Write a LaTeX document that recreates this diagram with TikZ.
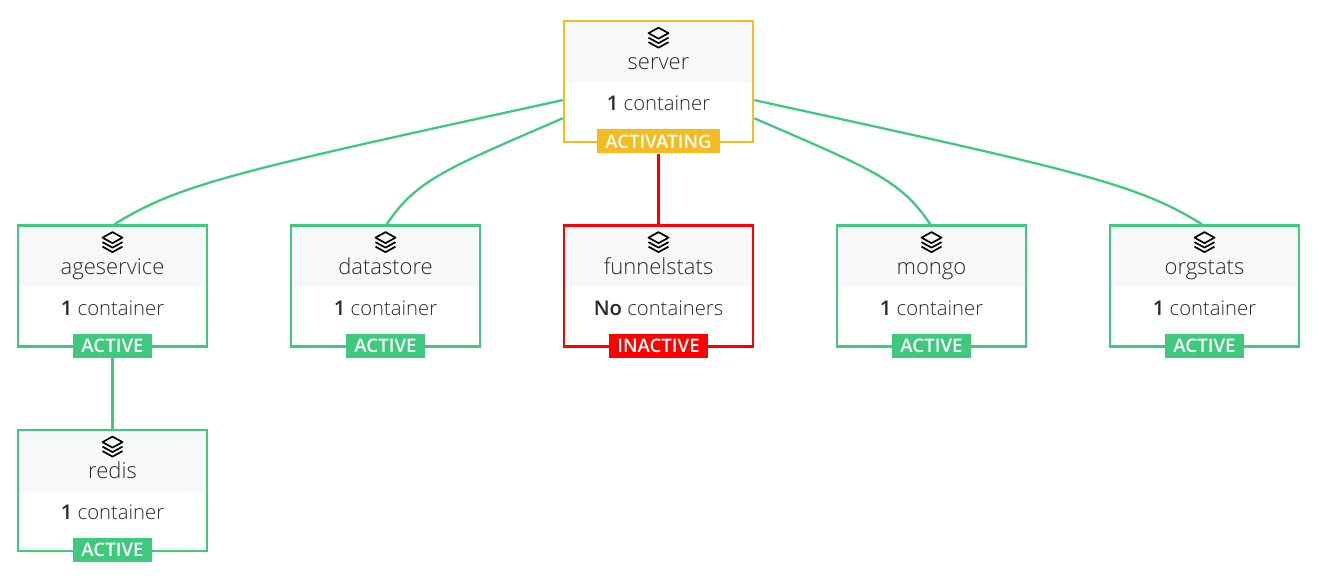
\documentclass[tikz,border=0pt]{standalone}
\usepackage{fontspec}
\usepackage{xcolor}
\usepackage{tikz}
\usetikzlibrary{positioning, calc}
\setmainfont{Open Sans}
\newfontfamily\lightfont{Open Sans Light}
\newfontfamily\semifont{Open Sans Semibold}
\definecolor{activegreen}{RGB}{62, 201, 126}
\definecolor{activatingyellow}{RGB}{245, 187, 34}
\definecolor{inactivered}{RGB}{255, 0, 0}
\definecolor{headgray}{RGB}{247, 248, 250}
\definecolor{textdark}{RGB}{40, 42, 48}

\begin{document}
\begin{tikzpicture}[
    x=0.75pt, y=0.75pt,
    node distance=60.6pt and 61pt,
    svcbox/.style={draw=#1, line width=2pt, fill=white, minimum width=141.75pt, minimum height=90.75pt, inner sep=0pt},
    headbox/.style={fill=headgray, outer sep=0pt, inner ysep=0pt, minimum width=139.75pt, text height=35.5pt, text depth=9pt, text=textdark, font=\lightfont\fontsize{16.5}{20}\selectfont},
    countlabel/.style={inner sep=0pt, text height=21.6pt, text=textdark, font=\lightfont\fontsize{15.2}{18}\selectfont},
    badge/.style={fill=#1, text=white, inner xsep=6.5pt, inner ysep=0pt, minimum height=18pt, font=\semifont\fontsize{14}{16}\selectfont},
    link/.style={draw=#1, line width=1.7pt},
    stackicon/.pic={
        \draw[line width=1.25pt, line join=round, black] (0,10) -- (10,4.5) -- (0,-1) -- (-10,4.5) -- cycle;
        \draw[line width=1.25pt, line join=round, black] (-10,0) -- (0,-5.5) -- (10,0);
        \draw[line width=1.25pt, line join=round, black] (-10,-4.5) -- (0,-10) -- (10,-4.5);
    }
]
\useasboundingbox (0,0) rectangle (1319,-583);

% Row 1: Server
\node[svcbox=activatingyellow] (server) at (658.5,-81.5) {};
\node[headbox, anchor=north, yshift=-2pt] (serverhead) at (server.north) {server};
\node[countlabel, below=0pt of serverhead] (servercount) {{\semifont 1} container};
\node[badge=activatingyellow, yshift=1.5pt] (serverbadge) at (server.south) {ACTIVATING};
\pic at ([yshift=-13.5pt]server.north) {stackicon};

% Row 2: Services
\node[svcbox=inactivered, below=of server] (funnelstats) {};
\node[headbox, anchor=north, yshift=-2pt] (funnelstatshead) at (funnelstats.north) {funnelstats};
\node[countlabel, below=0pt of funnelstatshead] (funnelstatscount) {{\semifont No} containers};
\node[badge=inactivered, yshift=1.5pt] (funnelstatsbadge) at (funnelstats.south) {INACTIVE};
\pic at ([yshift=-13.5pt]funnelstats.north) {stackicon};

\node[svcbox=activegreen, left=of funnelstats] (datastore) {};
\node[headbox, anchor=north, yshift=-2pt] (datastorehead) at (datastore.north) {datastore};
\node[countlabel, below=0pt of datastorehead] (datastorecount) {{\semifont 1} container};
\node[badge=activegreen, yshift=1.5pt] (datastorebadge) at (datastore.south) {ACTIVE};
\pic at ([yshift=-13.5pt]datastore.north) {stackicon};

\node[svcbox=activegreen, left=of datastore] (ageservice) {};
\node[headbox, anchor=north, yshift=-2pt] (ageservicehead) at (ageservice.north) {ageservice};
\node[countlabel, below=0pt of ageservicehead] (ageservicecount) {{\semifont 1} container};
\node[badge=activegreen, yshift=1.5pt] (ageservicebadge) at (ageservice.south) {ACTIVE};
\pic at ([yshift=-13.5pt]ageservice.north) {stackicon};

\node[svcbox=activegreen, right=of funnelstats] (mongo) {};
\node[headbox, anchor=north, yshift=-2pt] (mongohead) at (mongo.north) {mongo};
\node[countlabel, below=0pt of mongohead] (mongocount) {{\semifont 1} container};
\node[badge=activegreen, yshift=1.5pt] (mongobadge) at (mongo.south) {ACTIVE};
\pic at ([yshift=-13.5pt]mongo.north) {stackicon};

\node[svcbox=activegreen, right=of mongo] (orgstats) {};
\node[headbox, anchor=north, yshift=-2pt] (orgstatshead) at (orgstats.north) {orgstats};
\node[countlabel, below=0pt of orgstatshead] (orgstatscount) {{\semifont 1} container};
\node[badge=activegreen, yshift=1.5pt] (orgstatsbadge) at (orgstats.south) {ACTIVE};
\pic at ([yshift=-13.5pt]orgstats.north) {stackicon};

% Row 3: Redis
\node[svcbox=activegreen, below=of ageservice] (redis) {};
\node[headbox, anchor=north, yshift=-2pt] (redishead) at (redis.north) {redis};
\node[countlabel, below=0pt of redishead] (rediscount) {{\semifont 1} container};
\node[badge=activegreen, yshift=1.5pt] (redisbadge) at (redis.south) {ACTIVE};
\pic at ([yshift=-13.5pt]redis.north) {stackicon};

% Links
\draw[link=activegreen] (server.191) .. controls +(-330,-72) and +(65,40) .. ([xshift=1.5pt]ageservice.north);
\draw[link=activegreen] (server.201) .. controls +(-115,-50) and +(30,45) .. ([xshift=1pt]datastore.north);
\draw[link=inactivered] (serverbadge.south) -- (funnelstats.north);
\draw[link=activegreen] (server.339) .. controls +(115,-50) and +(-30,45) .. ([xshift=-1pt]mongo.north);
\draw[link=activegreen] (server.349) .. controls +(330,-72) and +(-65,40) .. ([xshift=-2pt]orgstats.north);
\draw[link=activegreen] (ageservicebadge.south) -- (redis.north);

\end{tikzpicture}
\end{document}
